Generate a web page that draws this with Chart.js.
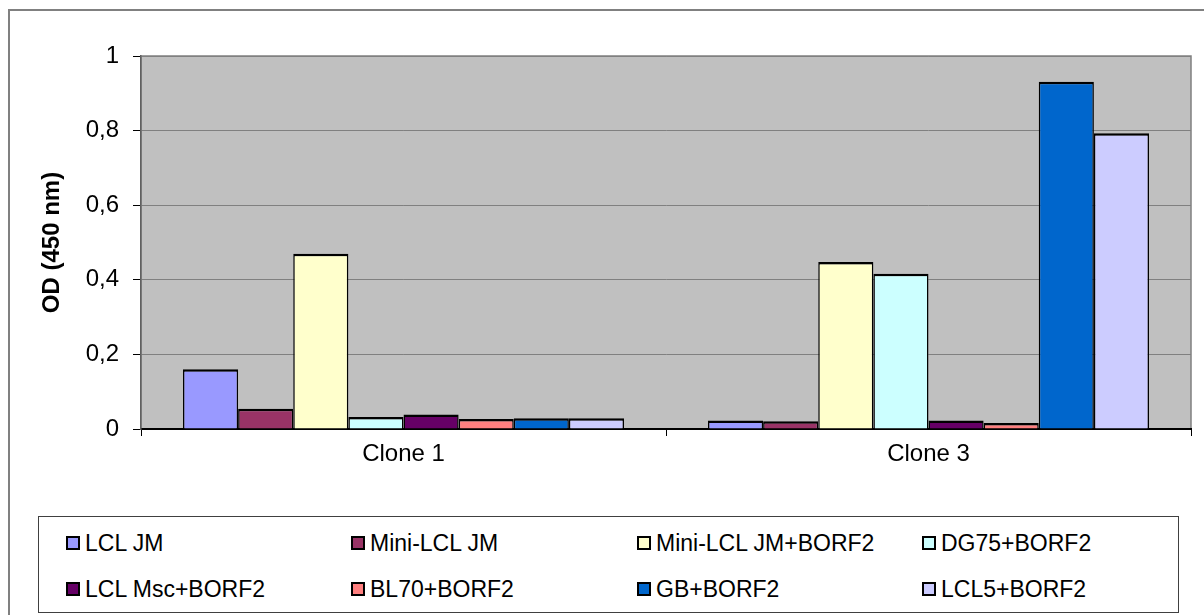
<!DOCTYPE html>
<html>
<head>
<meta charset="utf-8">
<script src="https://cdn.jsdelivr.net/npm/chart.js@4.4.1/dist/chart.umd.min.js"></script>
<style>
    body { margin: 0; background: #fff; font-family: "Liberation Sans", Arial, sans-serif; }
    #frame { position: absolute; left: 8px; top: 9px; width: 1300px; height: 700px;
             border-left: 2px solid #808080; border-top: 2px solid #808080; }
    #wrap { position: absolute; left: 0; top: 0; width: 1204px; height: 470px; }
    #legend { position: absolute; left: 38px; top: 516px; width: 1141px; height: 97px;
              border: 1px solid #404040; box-sizing: border-box; }
    .item { position: absolute; font-size: 23px; line-height: 26px; color: #000;
            white-space: nowrap; display: flex; align-items: center; }
    .box { width: 10px; height: 10px; border: 2px solid #000; margin-right: 5px; }
</style>
</head>
<body>
<div id="frame"></div>
<div id="wrap"><canvas id="chartOD" width="1204" height="470"></canvas></div>
<div id="legend"></div>
<script>
// Kategori dan nilai OD per sampel
const categories = ['Clone 1', 'Clone 3'];
const seriesNames = [
    'LCL JM', 'Mini-LCL JM', 'Mini-LCL JM+BORF2', 'DG75+BORF2',
    'LCL Msc+BORF2', 'BL70+BORF2', 'GB+BORF2', 'LCL5+BORF2'
];
const lclJM = [0.16, 0.023];
const miniLclJM = [0.054, 0.021];
const miniLclJMBorf2 = [0.47, 0.448];
const dg75Borf2 = [0.032, 0.416];
const lclMscBorf2 = [0.039, 0.023];
const bl70Borf2 = [0.027, 0.016];
const gbBorf2 = [0.029, 0.931];
const lcl5Borf2 = [0.029, 0.793];
const yTickLabels = ['0', '0,2', '0,4', '0,6', '0,8', '1'];

const seriesValues = [lclJM, miniLclJM, miniLclJMBorf2, dg75Borf2,
    lclMscBorf2, bl70Borf2, gbBorf2, lcl5Borf2];
const seriesColors = ['#9999FF', '#993366', '#FFFFCC', '#CCFFFF',
    '#660066', '#FF8080', '#0066CC', '#CCCCFF'];

const axisFont = { family: '"Liberation Sans", Arial', size: 24 };

// Latar abu-abu area plot
const plotBackground = {
    id: 'plotBackground',
    beforeDraw(chart) {
        const { ctx, chartArea: a } = chart;
        ctx.save();
        ctx.fillStyle = '#C0C0C0';
        ctx.fillRect(a.left, a.top, a.width, a.height);
        ctx.strokeStyle = '#808080';
        ctx.lineWidth = 1.5;
        ctx.strokeRect(a.left, a.top, a.width, a.height);
        ctx.restore();
    }
};

const chart = new Chart(document.getElementById('chartOD'), {
    type: 'bar',
    data: {
        labels: categories,
        datasets: seriesNames.map((name, i) => ({
            label: name,
            data: seriesValues[i],
            backgroundColor: seriesColors[i],
            borderColor: '#000',
            borderWidth: { top: 2.5, left: 1.5, right: 1.5, bottom: 0 },
            borderSkipped: false,
            categoryPercentage: 0.84,
            barPercentage: 1
        }))
    },
    options: {
        responsive: false,
        animation: false,
        devicePixelRatio: 1,
        layout: { padding: { left: 20, right: 13, top: 56, bottom: 0 } },
        plugins: { legend: { display: false }, tooltip: { enabled: false } },
        scales: {
            x: {
                grid: { display: true, drawOnChartArea: false, drawTicks: true,
                        tickLength: 7, color: '#000', offset: true },
                border: { display: true, color: '#000', width: 2 },
                ticks: { color: '#000', padding: 4, font: axisFont },
                afterFit(scale) { scale.height = 41; }
            },
            y: {
                min: 0, max: 1,
                ticks: {
                    stepSize: 0.2, color: '#000', padding: 14, font: axisFont,
                    callback: (v, i) => yTickLabels[i]
                },
                grid: { color: '#808080', lineWidth: 1, tickLength: 8, tickColor: '#000' },
                border: { display: true, color: '#606060', width: 1.5 },
                title: {
                    display: true, text: 'OD (450 nm)', color: '#000',
                    padding: { top: 18 },
                    font: { family: '"Liberation Sans", Arial', size: 24, weight: 'bold' }
                },
                afterFit(scale) { scale.width = 121; }
            }
        }
    },
    plugins: [plotBackground]
});

// Legenda 4 kolom x 2 baris
const legend = document.getElementById('legend');
const colX = [27, 312, 598, 883];
const rowY = [13, 59];
seriesNames.forEach((name, i) => {
    const el = document.createElement('div');
    el.className = 'item';
    el.style.left = colX[i % 4] + 'px';
    el.style.top = rowY[Math.floor(i / 4)] + 'px';
    el.innerHTML = '<span class="box" style="background:' + seriesColors[i] + '"></span>' + name;
    legend.appendChild(el);
});
</script>
</body>
</html>
